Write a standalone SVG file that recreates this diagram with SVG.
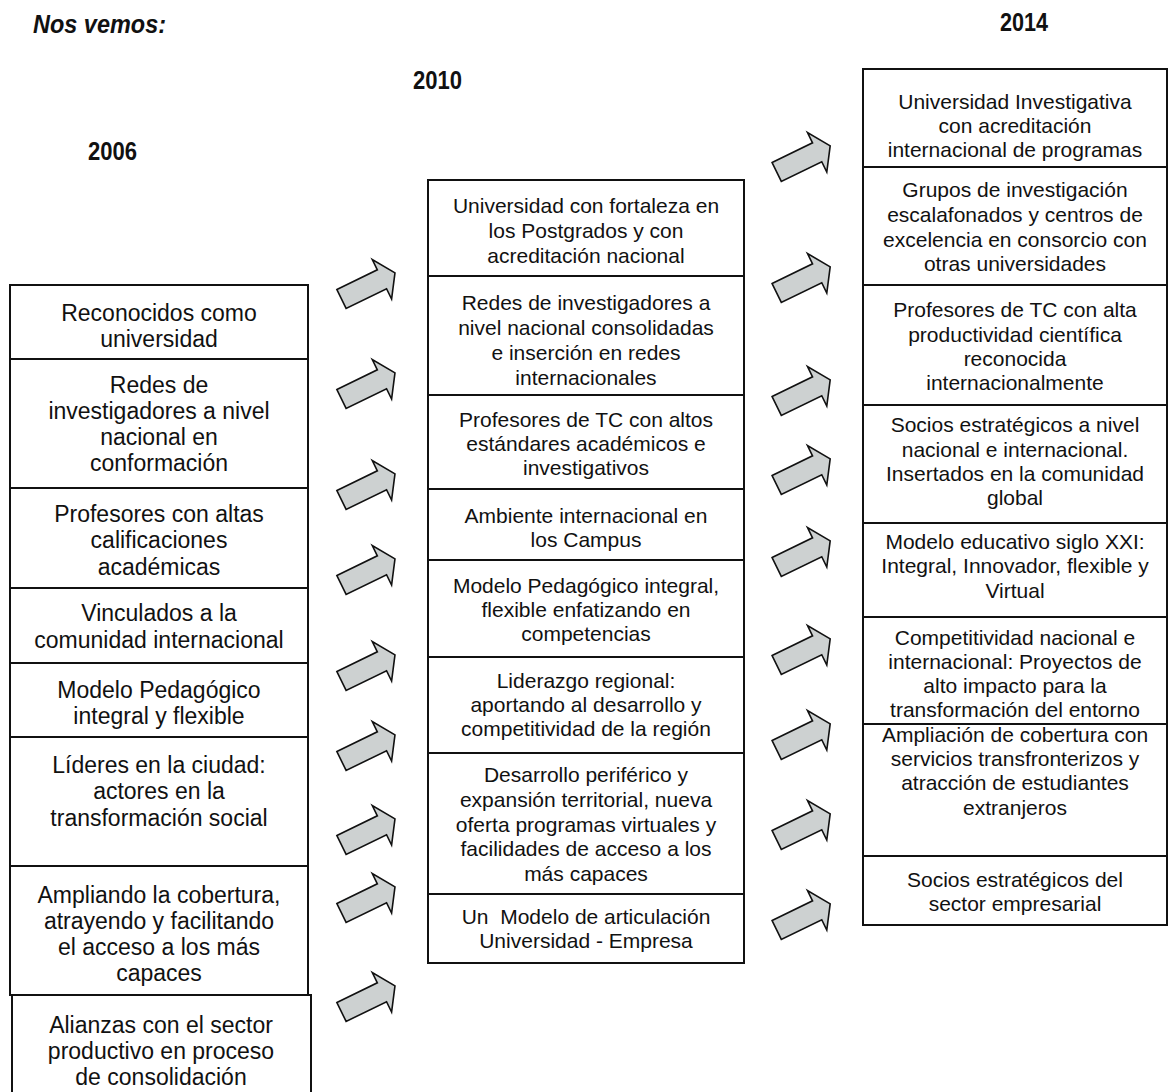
<svg xmlns="http://www.w3.org/2000/svg" xmlns:xlink="http://www.w3.org/1999/xlink" width="1169" height="1092" viewBox="0 0 1169 1092">
<style>
.box{fill:#fff;stroke:#111;stroke-width:2}
.arr{fill:#cdd1d1;stroke:#111;stroke-width:1.6;stroke-linejoin:miter}
.t{font-family:"Liberation Sans",Arial,sans-serif;fill:#111;text-anchor:middle}
.l{font-size:23px}
.m{font-size:21px}
.r{font-size:21px}
.h{font-family:"Liberation Sans",Arial,sans-serif;font-weight:bold;font-size:25px;fill:#111}
</style>
<defs>
<polygon id="arr" points="0,-10.5 45,-10.5 45,-22 59.5,0 45,22 45,10.5 0,10.5"/>
</defs>
<rect width="1169" height="1092" fill="#fff"/>
<g id="headings">
<text class="h" x="33" y="33" font-style="italic" textLength="133" lengthAdjust="spacingAndGlyphs">Nos vemos:</text>
<text class="h" x="88" y="160" textLength="49" lengthAdjust="spacingAndGlyphs">2006</text>
<text class="h" x="413" y="89" textLength="49" lengthAdjust="spacingAndGlyphs">2010</text>
<text class="h" x="1000" y="31" textLength="48" lengthAdjust="spacingAndGlyphs">2014</text>
</g>
<g id="connectors">
<use xlink:href="#arr" class="arr" transform="translate(341.5,299) rotate(-26)"/>
<use xlink:href="#arr" class="arr" transform="translate(341.5,399) rotate(-26)"/>
<use xlink:href="#arr" class="arr" transform="translate(341.5,500) rotate(-26)"/>
<use xlink:href="#arr" class="arr" transform="translate(341.5,585) rotate(-26)"/>
<use xlink:href="#arr" class="arr" transform="translate(341.5,681) rotate(-26)"/>
<use xlink:href="#arr" class="arr" transform="translate(341.5,761) rotate(-26)"/>
<use xlink:href="#arr" class="arr" transform="translate(341.5,845) rotate(-26)"/>
<use xlink:href="#arr" class="arr" transform="translate(341.5,913) rotate(-26)"/>
<use xlink:href="#arr" class="arr" transform="translate(341.5,1012) rotate(-26)"/>
<use xlink:href="#arr" class="arr" transform="translate(776.7,172) rotate(-26)"/>
<use xlink:href="#arr" class="arr" transform="translate(776.7,293) rotate(-26)"/>
<use xlink:href="#arr" class="arr" transform="translate(776.7,406) rotate(-26)"/>
<use xlink:href="#arr" class="arr" transform="translate(776.7,485) rotate(-26)"/>
<use xlink:href="#arr" class="arr" transform="translate(776.7,567) rotate(-26)"/>
<use xlink:href="#arr" class="arr" transform="translate(776.7,665) rotate(-26)"/>
<use xlink:href="#arr" class="arr" transform="translate(776.7,750) rotate(-26)"/>
<use xlink:href="#arr" class="arr" transform="translate(776.7,840) rotate(-26)"/>
<use xlink:href="#arr" class="arr" transform="translate(776.7,930) rotate(-26)"/>
</g>
<g id="n2006-1"><rect class="box" x="10" y="285" width="298" height="74"/>
<text class="t l"><tspan x="159" y="321">Reconocidos como</tspan><tspan x="159" y="347">universidad</tspan></text></g>
<g id="n2006-2"><rect class="box" x="10" y="359" width="298" height="129"/>
<text class="t l"><tspan x="159" y="393">Redes de</tspan><tspan x="159" y="419">investigadores a nivel</tspan><tspan x="159" y="445">nacional en</tspan><tspan x="159" y="471">conformación</tspan></text></g>
<g id="n2006-3"><rect class="box" x="10" y="488" width="298" height="100"/>
<text class="t l"><tspan x="159" y="522">Profesores con altas</tspan><tspan x="159" y="548">calificaciones</tspan><tspan x="159" y="575">académicas</tspan></text></g>
<g id="n2006-4"><rect class="box" x="10" y="588" width="298" height="75"/>
<text class="t l"><tspan x="159" y="621">Vinculados a la</tspan><tspan x="159" y="648">comunidad internacional</tspan></text></g>
<g id="n2006-5"><rect class="box" x="10" y="663" width="298" height="74"/>
<text class="t l"><tspan x="159" y="698">Modelo Pedagógico</tspan><tspan x="159" y="724">integral y flexible</tspan></text></g>
<g id="n2006-6"><rect class="box" x="10" y="737" width="298" height="129"/>
<text class="t l"><tspan x="159" y="773">Líderes en la ciudad:</tspan><tspan x="159" y="799">actores en la</tspan><tspan x="159" y="826">transformación social</tspan></text></g>
<g id="n2006-7"><rect class="box" x="10" y="866" width="298" height="129"/>
<text class="t l"><tspan x="159" y="903">Ampliando la cobertura,</tspan><tspan x="159" y="929">atrayendo y facilitando</tspan><tspan x="159" y="955">el acceso a los más</tspan><tspan x="159" y="981">capaces</tspan></text></g>
<g id="n2006-8"><rect class="box" x="12" y="995" width="299" height="110"/>
<text class="t l"><tspan x="161" y="1033">Alianzas con el sector</tspan><tspan x="161" y="1059">productivo en proceso</tspan><tspan x="161" y="1085">de consolidación</tspan></text></g>

<g id="n2010-1"><rect class="box" x="428" y="180" width="316" height="96"/>
<text class="t m"><tspan x="586" y="213">Universidad con fortaleza en</tspan><tspan x="586" y="238">los Postgrados y con</tspan><tspan x="586" y="263">acreditación nacional</tspan></text></g>
<g id="n2010-2"><rect class="box" x="428" y="276" width="316" height="119"/>
<text class="t m"><tspan x="586" y="310">Redes de investigadores a</tspan><tspan x="586" y="335">nivel nacional consolidadas</tspan><tspan x="586" y="360">e inserción en redes</tspan><tspan x="586" y="385">internacionales</tspan></text></g>
<g id="n2010-3"><rect class="box" x="428" y="395" width="316" height="94"/>
<text class="t m"><tspan x="586" y="427">Profesores de TC con altos</tspan><tspan x="586" y="451">estándares académicos e</tspan><tspan x="586" y="475">investigativos</tspan></text></g>
<g id="n2010-4"><rect class="box" x="428" y="489" width="316" height="71"/>
<text class="t m"><tspan x="586" y="523">Ambiente internacional en</tspan><tspan x="586" y="547">los Campus</tspan></text></g>
<g id="n2010-5"><rect class="box" x="428" y="560" width="316" height="97"/>
<text class="t m"><tspan x="586" y="593">Modelo Pedagógico integral,</tspan><tspan x="586" y="617">flexible enfatizando en</tspan><tspan x="586" y="641">competencias</tspan></text></g>
<g id="n2010-6"><rect class="box" x="428" y="657" width="316" height="96"/>
<text class="t m"><tspan x="586" y="688">Liderazgo regional:</tspan><tspan x="586" y="712">aportando al desarrollo y</tspan><tspan x="586" y="736">competitividad de la región</tspan></text></g>
<g id="n2010-7"><rect class="box" x="428" y="753" width="316" height="141"/>
<text class="t m"><tspan x="586" y="782">Desarrollo periférico y</tspan><tspan x="586" y="807">expansión territorial, nueva</tspan><tspan x="586" y="832">oferta programas virtuales y</tspan><tspan x="586" y="856">facilidades de acceso a los</tspan><tspan x="586" y="881">más capaces</tspan></text></g>
<g id="n2010-8"><rect class="box" x="428" y="894" width="316" height="69"/>
<text class="t m"><tspan x="586" y="924" xml:space="preserve">Un  Modelo de articulación</tspan><tspan x="586" y="948">Universidad - Empresa</tspan></text></g>

<g id="n2014-1"><rect class="box" x="863" y="69" width="304" height="98"/>
<text class="t r"><tspan x="1015" y="109">Universidad Investigativa</tspan><tspan x="1015" y="133">con acreditación</tspan><tspan x="1015" y="157">internacional de programas</tspan></text></g>
<g id="n2014-2"><rect class="box" x="863" y="167" width="304" height="118"/>
<text class="t r"><tspan x="1015" y="197">Grupos de investigación</tspan><tspan x="1015" y="222">escalafonados y centros de</tspan><tspan x="1015" y="247">excelencia en consorcio con</tspan><tspan x="1015" y="271">otras universidades</tspan></text></g>
<g id="n2014-3"><rect class="box" x="863" y="285" width="304" height="120"/>
<text class="t r"><tspan x="1015" y="317">Profesores de TC con alta</tspan><tspan x="1015" y="342">productividad científica</tspan><tspan x="1015" y="366">reconocida</tspan><tspan x="1015" y="390">internacionalmente</tspan></text></g>
<g id="n2014-4"><rect class="box" x="863" y="405" width="304" height="118"/>
<text class="t r"><tspan x="1015" y="432">Socios estratégicos a nivel</tspan><tspan x="1015" y="457">nacional e internacional.</tspan><tspan x="1015" y="481">Insertados en la comunidad</tspan><tspan x="1015" y="505">global</tspan></text></g>
<g id="n2014-5"><rect class="box" x="863" y="523" width="304" height="94"/>
<text class="t r"><tspan x="1015" y="549">Modelo educativo siglo XXI:</tspan><tspan x="1015" y="573">Integral, Innovador, flexible y</tspan><tspan x="1015" y="598">Virtual</tspan></text></g>
<g id="n2014-6"><rect class="box" x="863" y="617" width="304" height="107"/>
<text class="t r"><tspan x="1015" y="645">Competitividad nacional e</tspan><tspan x="1015" y="669">internacional: Proyectos de</tspan><tspan x="1015" y="693">alto impacto para la</tspan><tspan x="1015" y="717">transformación del entorno</tspan></text></g>
<g id="n2014-7"><rect class="box" x="863" y="724" width="304" height="132"/>
<text class="t r"><tspan x="1015" y="742">Ampliación de cobertura con</tspan><tspan x="1015" y="766">servicios transfronterizos y</tspan><tspan x="1015" y="790">atracción de estudiantes</tspan><tspan x="1015" y="815">extranjeros</tspan></text></g>
<g id="n2014-8"><rect class="box" x="863" y="856" width="304" height="69"/>
<text class="t r"><tspan x="1015" y="887">Socios estratégicos del</tspan><tspan x="1015" y="911">sector empresarial</tspan></text></g>
</svg>
